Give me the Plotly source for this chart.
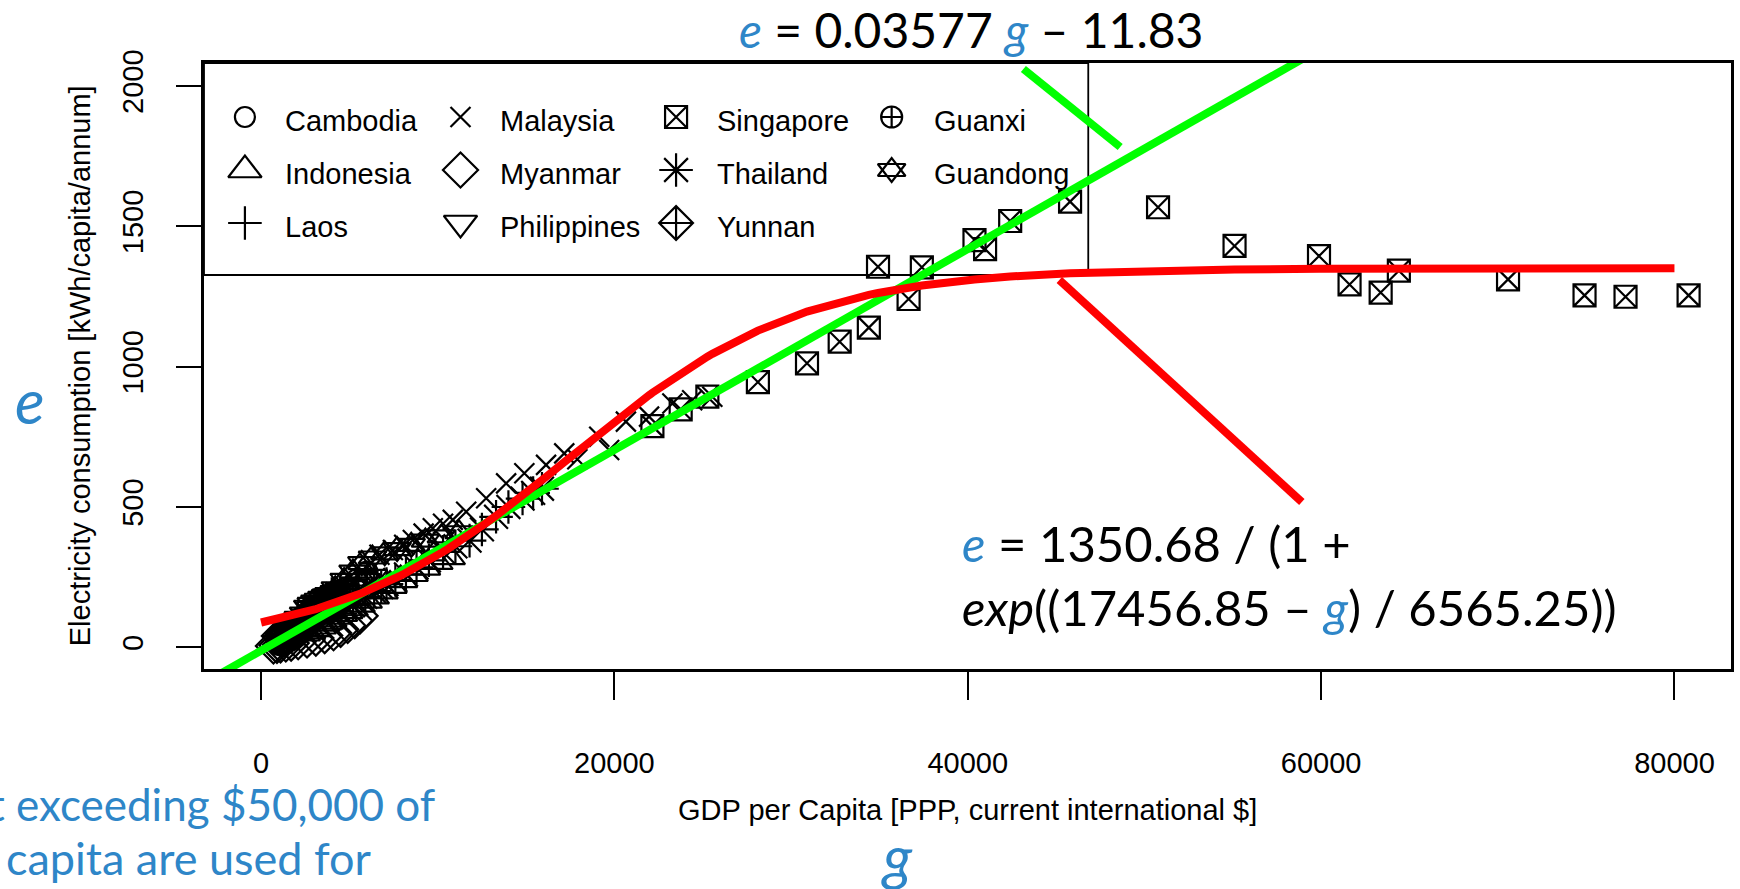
import math
import plotly.graph_objects as go

# ---------------------------------------------------------------------------
# Observations: GDP per capita [PPP, current international $] and
# electricity consumption [kWh/capita/annum]
# ---------------------------------------------------------------------------
cambodia_g = [1050, 1150, 1250, 1350, 1450, 1600, 1750, 1900, 2050, 2200, 2350, 2500, 2650, 2800]
cambodia_e = [8, 10, 12, 15, 18, 22, 27, 33, 40, 48, 57, 68, 80, 95]

indonesia_g = [2400, 2700, 3000, 3300, 3500, 3700, 3900, 4200, 4500, 4800, 5100, 5500, 5900, 6300,
               6800, 7300, 7900, 8500, 9200, 9900, 10600]
indonesia_e = [50, 58, 66, 75, 85, 92, 100, 110, 120, 130, 140, 153, 167, 182,
               200, 220, 240, 262, 285, 305, 322]

laos_g = [1200, 1300, 1450, 1600, 1750, 1900, 2100, 2300, 2500, 2750, 3000, 3300, 3600, 4000]
laos_e = [20, 25, 30, 36, 42, 50, 60, 72, 85, 100, 118, 138, 160, 190]

malaysia_g = [6700, 7460, 8100, 8590, 9200, 9720, 10300, 10850, 11610, 12740, 13870, 14900,
              16130, 17160, 17900, 19140, 19700, 20650, 21960, 23280, 24400, 25540]
malaysia_e = [330, 347, 365, 382, 405, 424, 440, 454, 483, 531, 584, 620,
              650, 691, 670, 750, 703, 804, 822, 869, 880, 893]

myanmar_g = [700, 900, 1100, 1400, 1700, 2100, 2600, 3100, 3600, 4100, 4500, 4900, 5300, 5600]
myanmar_e = [5, 7, 9, 12, 15, 20, 26, 33, 42, 52, 64, 78, 95, 112]

philippines_g = [2800, 3000, 3200, 3400, 3600, 3800, 4000, 4300, 4600, 5000, 5400, 5800, 6200]
philippines_e = [140, 150, 158, 165, 172, 178, 185, 192, 200, 210, 222, 235, 250]

singapore_g = [22150, 23750, 25260, 28120, 30900, 32750, 34400, 34920, 36650, 37400, 40380, 40980,
               42400, 45790, 50770, 55100, 59880, 61610, 63370, 64400, 70580, 74910, 77230, 80800]
singapore_e = [788, 848, 893, 945, 1012, 1089, 1139, 1356, 1241, 1354, 1451, 1419,
               1519, 1588, 1568, 1430, 1394, 1293, 1264, 1342, 1311, 1254, 1249, 1254]

thailand_g = [4500, 5200, 5900, 6400, 6800, 7100, 7600, 8200, 8800, 9500, 10300, 11000, 11800,
              12500, 13300, 14000, 14800, 15400, 15900]
thailand_e = [120, 150, 180, 200, 215, 225, 240, 260, 285, 310, 340, 360, 380,
              420, 465, 500, 530, 550, 565]

yunnan_g = [1000, 1200, 1400, 1600, 1900, 2200, 2500, 2900, 3300, 3800, 4300, 4900, 5500]
yunnan_e = [40, 48, 56, 64, 75, 88, 100, 115, 132, 150, 170, 195, 220]

guanxi_g = [900, 1050, 1200, 1400, 1600, 1850, 2100, 2400, 2800, 3200, 3700, 4200, 4800, 5400, 6000]
guanxi_e = [30, 38, 46, 55, 65, 76, 88, 102, 120, 140, 162, 185, 210, 240, 268]

guandong_g = [1800, 2100, 2400, 2800, 3200, 3700, 4200, 4700, 5200, 5700, 6300, 7000, 7700,
              8500, 9300, 10200, 11200]
guandong_e = [90, 105, 120, 140, 160, 185, 210, 240, 270, 300, 320, 335, 350,
              365, 380, 395, 410]

# Fitted models
lin_slope, lin_icpt = 0.03577, -11.83
logi_K, logi_mid, logi_scale = 1350.68, 17456.85, 6565.25

# Axis ticks
x_ticks = [0, 20000, 40000, 60000, 80000]
y_ticks = [0, 500, 1000, 1500, 2000]

# ---------------------------------------------------------------------------
# Geometry of the canvas
# ---------------------------------------------------------------------------
FIG_W, FIG_H = 1740, 889
ML, MR, MT, MB = 204, 6, 63, 220
PW, PH = FIG_W - ML - MR, FIG_H - MT - MB
X_RANGE = [-3231, 83200]
Y_RANGE = [-77.3, 2081.9]


def fx(px):
    """figure pixel -> paper x"""
    return (px - ML) / PW


def fy(py):
    """figure pixel -> paper y"""
    return (FIG_H - MB - py) / PH


BLUE = "#2E86C8"
TXT_FONT = "Liberation Sans, Arial, sans-serif"
SLIDE_FONT = "Lato, Noto Sans, sans-serif"
MLW = 2.2

series = [
    ("Cambodia", cambodia_g, cambodia_e, ["circle-open"], 20),
    ("Indonesia", indonesia_g, indonesia_e, ["triangle-up-open"], 29),
    ("Laos", laos_g, laos_e, ["cross-thin-open"], 24),
    ("Malaysia", malaysia_g, malaysia_e, ["x-thin-open"], 20),
    ("Myanmar", myanmar_g, myanmar_e, ["diamond-open"], 27),
    ("Philippines", philippines_g, philippines_e, ["triangle-down-open"], 29),
    ("Singapore", singapore_g, singapore_e, ["square-x-open"], 22),
    ("Thailand", thailand_g, thailand_e, ["asterisk-open"], 28),
    ("Yunnan", yunnan_g, yunnan_e, ["diamond-cross-open"], 26),
    ("Guanxi", guanxi_g, guanxi_e, ["circle-cross-open"], 21),
    ("Guandong", guandong_g, guandong_e, ["triangle-up-open", "triangle-down-open"], 24),
]

fig = go.Figure()

for name, gx, ey, symbols, size in series:
    for sym in symbols:
        fig.add_trace(go.Scatter(
            x=gx, y=ey, mode="markers", name=name, showlegend=False,
            marker=dict(symbol=sym, size=size, color="black",
                        line=dict(color="black", width=MLW)),
            hoverinfo="skip"))

# Linear fit  e = a g + b
lin_x = [X_RANGE[0] - 5000, X_RANGE[1] + 5000]
lin_y = [lin_slope * v + lin_icpt for v in lin_x]
fig.add_trace(go.Scatter(x=lin_x, y=lin_y, mode="lines", showlegend=False,
                         line=dict(color="#00FF00", width=8), hoverinfo="skip"))

# Logistic fit evaluated at the observed incomes
all_g = sorted(set([0, 80000] + [v for _, gx, _, _, _ in series for v in gx if v <= 80000]))
logi_y = [logi_K / (1 + math.exp((logi_mid - v) / logi_scale)) for v in all_g]
fig.add_trace(go.Scatter(x=all_g, y=logi_y, mode="lines", showlegend=False,
                         line=dict(color="#FF0000", width=8), hoverinfo="skip"))

# ---------------------------------------------------------------------------
# Legend (three rows, filled column by column)
# ---------------------------------------------------------------------------
leg_sym_x = [245, 461, 677, 893]
leg_txt_x = [283, 499, 716, 933]
leg_sym_y = [117, 170, 223]
leg_txt_y = [121, 174, 227]
annotations = []
for i, (name, _, _, symbols, size) in enumerate(series):
    c, r = divmod(i, 3)
    for sym in symbols:
        fig.add_trace(go.Scatter(
            x=[leg_sym_x[c]], y=[leg_sym_y[r]], xaxis="x2", yaxis="y2",
            mode="markers", showlegend=False, hoverinfo="skip",
            marker=dict(symbol=sym, size=size, color="black",
                        line=dict(color="black", width=MLW))))
    annotations.append(dict(x=leg_txt_x[c], y=leg_txt_y[r], xref="x2", yref="y2",
                            text=name, showarrow=False, xanchor="left", yanchor="middle",
                            font=dict(family=TXT_FONT, size=29, color="black")))

shapes = [
    # legend frame
    dict(type="rect", xref="x2", yref="y2", x0=ML, y0=MT, x1=1090, y1=275,
         line=dict(color="black", width=1.8), layer="below"),
    # call-out strokes
    dict(type="line", xref="x2", yref="y2", x0=1025, y0=69, x1=1122, y1=147,
         line=dict(color="#00FF00", width=8)),
    dict(type="line", xref="x2", yref="y2", x0=1061, y0=280, x1=1304, y1=502,
         line=dict(color="#FF0000", width=8)),
]

# Axis titles
annotations.append(dict(x=fx(969), y=fy(810), xref="paper", yref="paper",
                        text="GDP per Capita [PPP, current international $]", showarrow=False,
                        xanchor="center", yanchor="middle",
                        font=dict(family=TXT_FONT, size=29, color="black")))
annotations.append(dict(x=fx(80), y=fy(366), xref="paper", yref="paper", textangle=-90,
                        text="Electricity consumption [kWh/capita/annum]", showarrow=False,
                        xanchor="center", yanchor="middle",
                        font=dict(family=TXT_FONT, size=29, color="black")))

# Equations and variable symbols
ev = f"<i><span style='color:{BLUE}'>e</span></i>"
gv = f"<i><span style='color:{BLUE}'>g</span></i>"
annotations.append(dict(x=fx(973), y=fy(29), xref="paper", yref="paper",
                        text=f"{ev} = 0.03577 {gv} – 11.83", showarrow=False,
                        xanchor="center", yanchor="middle",
                        font=dict(family=SLIDE_FONT, size=48, color="black")))
annotations.append(dict(x=fx(961), y=fy(543), xref="paper", yref="paper",
                        text=f"{ev} = 1350.68 / (1 +", showarrow=False,
                        xanchor="left", yanchor="middle",
                        font=dict(family=SLIDE_FONT, size=49, color="black")))
annotations.append(dict(x=fx(961), y=fy(607), xref="paper", yref="paper",
                        text=f"<i>exp</i>((17456.85 – {gv}) / 6565.25))", showarrow=False,
                        xanchor="left", yanchor="middle",
                        font=dict(family=SLIDE_FONT, size=49, color="black")))
annotations.append(dict(x=fx(30), y=fy(400), xref="paper", yref="paper",
                        text="<i>e</i>", showarrow=False, xanchor="center", yanchor="middle",
                        font=dict(family=SLIDE_FONT, size=62, color=BLUE)))
annotations.append(dict(x=fx(898), y=fy(856), xref="paper", yref="paper",
                        text="<i>g</i>", showarrow=False, xanchor="center", yanchor="middle",
                        font=dict(family=SLIDE_FONT, size=60, color=BLUE)))
annotations.append(dict(x=fx(437), y=fy(804), xref="paper", yref="paper",
                        text="t exceeding $50,000 of", showarrow=False,
                        xanchor="right", yanchor="middle",
                        font=dict(family=SLIDE_FONT, size=44, color=BLUE)))
annotations.append(dict(x=fx(374), y=fy(858), xref="paper", yref="paper",
                        text="r capita are used for", showarrow=False,
                        xanchor="right", yanchor="middle",
                        font=dict(family=SLIDE_FONT, size=45, color=BLUE)))

axis_common = dict(showgrid=False, zeroline=False, showline=True, mirror=True,
                   linecolor="black", linewidth=2.5, ticks="outside", tickwidth=2,
                   tickcolor="black", tickfont=dict(family=TXT_FONT, size=29, color="black"))

fig.update_layout(
    width=FIG_W, height=FIG_H, autosize=False,
    margin=dict(l=ML, r=MR, t=MT, b=MB, pad=0),
    paper_bgcolor="white", plot_bgcolor="white",
    showlegend=False,
    xaxis=dict(range=X_RANGE, tickvals=x_ticks, ticktext=[str(v) for v in x_ticks],
               ticklen=28, ticklabelstandoff=38, **axis_common),
    yaxis=dict(range=Y_RANGE, tickvals=y_ticks, ticktext=[str(v) for v in y_ticks],
               ticklen=25, tickangle=-90, ticklabelstandoff=22, **axis_common),
    xaxis2=dict(range=[ML, FIG_W - MR], overlaying="x", visible=False, anchor="y2"),
    yaxis2=dict(range=[FIG_H - MB, MT], overlaying="y", visible=False, anchor="x2"),
    shapes=shapes,
    annotations=annotations,
)

fig.write_html("out.html")
